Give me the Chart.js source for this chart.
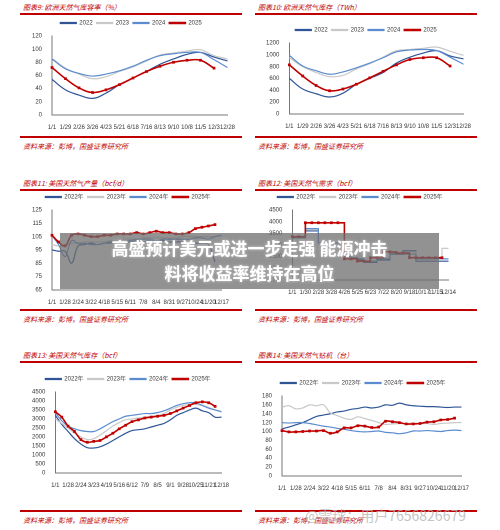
<!DOCTYPE html>
<html><head><meta charset="utf-8">
<script src="https://cdn.jsdelivr.net/npm/chart.js@4"></script>
<style>
body{margin:0;width:500px;height:530px;background:#fff;position:relative;overflow:hidden;font-family:"Noto Sans CJK SC",sans-serif}
.t{position:absolute;font-size:7px;color:#c00000;font-style:italic}
.r{position:absolute;height:1.5px;background:#c00000}
canvas{position:absolute}
#ban{position:absolute;left:60px;top:233px;width:379px;height:54px;background:rgba(110,110,110,0.75);color:#fff;font-weight:bold;font-size:17px;text-align:center;line-height:25px;padding-top:2px;text-shadow:0 0 3px rgba(255,255,255,0.6)}
#wm{position:absolute;left:305px;top:505px;font-size:14px;color:rgba(180,180,180,0.8)}
</style></head><body>
<script>
const lab1 = ['1/1','1/29','2/26','3/26','4/23','5/21','6/18','7/16','8/13','9/10','10/8','11/5','12/3','12/28'];
const eu1_2022 = [54,38,30,25,33,46,56,66,77,85,92,95,88,82];
const eu1_2023 = [86,71,62,55,58,66,73,82,91,94,97,99,90,85];
const eu1_2024 = [85,70,63,59,62,67,74,83,90,93,95,95,84,72];
const eu1_2025 = [72,55,41,34,38,46,56,66,74,80,83,83,71,null];
const eu2_2022 = [600,420,340,285,350,500,600,700,860,960,1030,1070,980,930];
const eu2_2023 = [950,800,700,630,650,760,850,960,1070,1090,1110,1130,1060,990];
const eu2_2024 = [990,810,730,670,710,780,860,950,1050,1080,1090,1070,960,840];
const eu2_2025 = [830,640,480,390,420,500,610,720,830,920,950,950,810,null];
const lab3 = ['1/1','','1/28','','2/24','','3/22','','4/18','','5/15','','6/11','','7/8','','8/4','','8/31','','9/27','','10/24','','11/20','','12/17'];
const us3_2022 = [95,94,94,85,98,99,100,99,100,101,101,101,101,102,101,102,101,102,101,101,101,100,100,100,99,86,null];
const us3_2023 = [99,98,98,100,100,101,101,101,101,102,102,103,103,103,104,104,104,104,104,104,105,105,105,105,105,105,106];
const us3_2024 = [106,99,90,102,100,100,99,99,100,100,101,101,102,103,103,103,102,103,103,103,103,103,104,104,103,105,106];
const us3_2025 = [106,101,98,106,107,106,105,105,106,106,107,107,107,108,107,108,109,108,108,107,107,108,111,112,113,114,null];
const lab4 = ['1/1','','1/30','','2/28','','3/28','','4/26','','5/25','','6/23','','7/22','','8/20','','9/18','','10/17','','11/15','','12/14'];
const us4_2022 = [3300,3300,3600,3600,3050,3050,3050,3050,2500,2400,2350,2250,2250,2350,2350,2600,2600,2750,2750,2300,2300,2300,2300,2300,2300];
const us4_2023 = [3300,3300,3650,3650,3050,3050,3050,3050,2550,2450,2400,2300,2300,2400,2400,2650,2650,2700,2700,2400,2400,2400,2400,2850,2850];
const us4_2024 = [3300,3300,3700,3700,3100,3100,3100,3100,2600,2450,2400,2300,2300,2400,2400,2650,2650,2600,2600,2400,2400,2400,2400,2400,2400];
const us4_2025 = [3350,3350,3950,3950,3950,3950,3950,3950,2400,2400,2300,2300,2450,2450,2700,2700,2650,2650,2450,2450,2450,2450,2450,2450,null];
const lab5 = ['1/1','','1/28','','2/24','','3/23','','4/19','','5/16','','6/12','','7/9','','8/5','','9/1','','9/28','','10/25','','11/21','','12/18'];
const us5_2022 = [3200,2700,2300,1900,1600,1400,1380,1450,1600,1800,2000,2200,2350,2400,2450,2550,2650,2750,2950,3200,3350,3500,3600,3450,3350,3100,3100];
const us5_2023 = [3000,2750,2500,2200,2000,1850,1900,2100,2350,2600,2800,2950,3000,3050,3100,3150,3200,3300,3500,3650,3750,3800,3800,3750,3650,3500,3400];
const us5_2024 = [3350,2900,2600,2450,2350,2300,2300,2450,2650,2850,3000,3150,3200,3250,3300,3300,3350,3450,3600,3750,3850,3900,3900,3750,3600,3500,3400];
const us5_2025 = [3400,3100,2600,2300,1850,1700,1750,1800,2000,2200,2450,2650,2850,2950,3050,3100,3150,3200,3300,3450,3600,3750,3900,3950,3900,3700,null];
const lab6 = ['1/1','','1/28','','2/24','','3/22','','4/18','','5/15','','6/11','','7/8','','8/4','','8/31','','9/27','','10/24','','11/20','','12/17'];
const us6_2022 = [106,110,115,120,127,134,137,140,144,146,150,152,155,153,155,160,159,164,160,158,157,156,156,155,154,155,155];
const us6_2023 = [155,158,151,153,160,158,160,142,136,130,127,133,129,125,120,116,117,118,118,119,118,118,116,118,119,120,120];
const us6_2024 = [120,119,120,120,118,115,112,110,107,105,102,100,99,100,101,98,97,95,97,101,101,102,101,100,102,103,102];
const us6_2025 = [102,99,99,100,101,101,102,96,99,108,108,113,112,109,110,123,122,120,117,117,118,121,122,126,127,130,null];

const cols = ['#2f5597','#c8c8c8','#5b8ccf','#c00000'];

function addBox(x, y, w, title, src, srcY) {
  const t = document.createElement('div'); t.className = 't'; t.style.left = (x+3)+'px'; t.style.top = y+'px'; t.textContent = title; document.body.appendChild(t);
  const r = document.createElement('div'); r.className = 'r'; r.style.left = x+'px'; r.style.top = (y+11)+'px'; r.style.width = w+'px'; document.body.appendChild(r);
  const r2 = document.createElement('div'); r2.className = 'r'; r2.style.left = x+'px'; r2.style.top = (srcY-5)+'px'; r2.style.width = w+'px'; document.body.appendChild(r2);
  const s = document.createElement('div'); s.className = 't'; s.style.left = (x+3)+'px'; s.style.top = srcY+'px'; s.textContent = src; document.body.appendChild(s);
}

function mk(x, y, w, h, labels, series, names, ymin, ymax, step, stepped) {
  const c = document.createElement('canvas');
  c.width = w; c.height = h;
  c.style.left = x+'px'; c.style.top = y+'px';
  document.body.appendChild(c);
  new Chart(c, {
    type: 'line',
    data: {
      labels: labels,
      datasets: series.map((d, i) => ({
        label: names[i], data: d, borderColor: cols[i], backgroundColor: cols[i],
        borderWidth: i == 3 ? 1.6 : 1.2, tension: stepped ? 0 : 0.4, stepped: stepped ? 'before' : false,
        pointRadius: i == 3 ? 0.8 : 0, pointStyle: 'rect', order: 3 - i
      }))
    },
    options: {
      responsive: false, animation: false, devicePixelRatio: 2,
      layout: {padding: {right: 4}},
      plugins: {
        legend: {labels: {boxWidth: 16, boxHeight: 1, font: {size: 6}, color: '#333', padding: 4,
                 sort: (a, b) => a.datasetIndex - b.datasetIndex}},
        tooltip: {enabled: false}
      },
      scales: {
        x: {grid: {display: false}, border: {color: '#777'},
            ticks: {autoSkip: false, maxRotation: 0, font: {size: 6}, color: '#333', padding: 1}},
        y: {min: ymin, max: ymax, grid: {display: false}, border: {color: '#777'},
            ticks: {stepSize: step, autoSkip: false, font: {size: 6}, color: '#333', padding: 2,
                    callback: v => String(v)}}
      }
    }
  });
}

const srcTxt = '资料来源：彭博，国盛证券研究所';
const n1 = ['2022','2023','2024','2025'];
const n2 = ['2022年','2023年','2024年','2025年'];

addBox(20, 2, 222, '图表9: 欧洲天然气库容率（%）', srcTxt, 141);
addBox(255, 2, 222, '图表10: 欧洲天然气库存（TWh）', srcTxt, 141);
addBox(20, 178, 222, '图表11: 美国天然气产量（bcf/d）', srcTxt, 314);
addBox(255, 178, 222, '图表12: 美国天然气需求（bcf）', srcTxt, 314);
addBox(20, 350, 222, '图表13: 美国天然气库存（bcf）', srcTxt, 515);
addBox(255, 350, 222, '图表14: 美国天然气钻机（台）', srcTxt, 515);

mk(30, 16, 206, 116, lab1, [eu1_2022,eu1_2023,eu1_2024,eu1_2025], n1, 0, 120, 20, false);
mk(264, 23, 208, 108, lab1, [eu2_2022,eu2_2023,eu2_2024,eu2_2025], n1, 0, 1200, 200, false);
mk(30, 190, 200, 117, lab3, [us3_2022,us3_2023,us3_2024,us3_2025], n2, 65, 125, 10, false);
mk(267, 190, 190, 107, lab4, [us4_2022,us4_2023,us4_2024,us4_2025], n2, 1500, 4500, 500, true);
mk(30, 372, 200, 118, lab5, [us5_2022,us5_2023,us5_2024,us5_2025], n2, 0, 4500, 500, false);
mk(260, 376, 210, 117, lab6, [us6_2022,us6_2023,us6_2024,us6_2025], n2, 0, 180, 20, false);
</script>
<div id="ban">高盛预计美元或进一步走强 能源冲击<br>料将收益率维持在高位</div>
<div id="wm">@雪球：用户7656826679</div>
</body></html>
